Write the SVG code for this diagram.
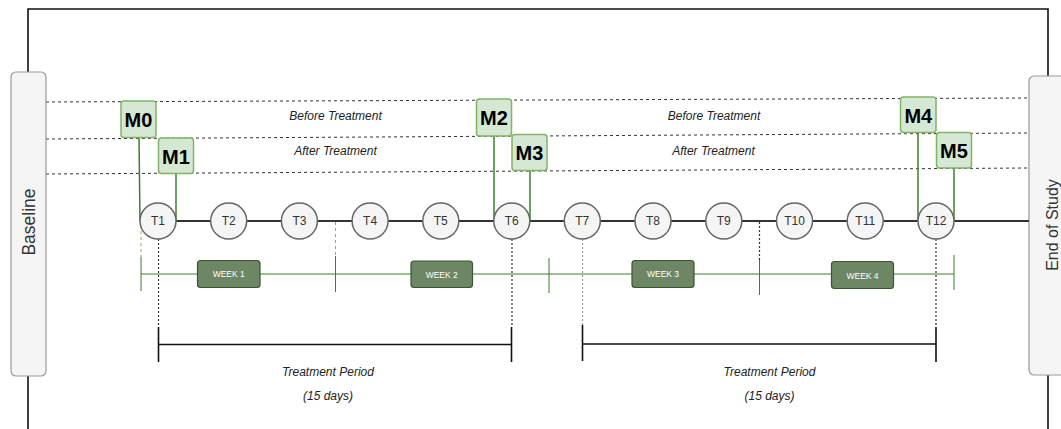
<svg xmlns="http://www.w3.org/2000/svg" width="1061" height="429" viewBox="0 0 1061 429">
<style>
  .frame{fill:none;stroke:#111;stroke-width:1.6}
  .side{fill:#f5f5f5;stroke:#999;stroke-width:1.2}
  .sideText{font-family:"Liberation Sans",Arial,sans-serif;fill:#333;text-anchor:middle;dominant-baseline:central}
  .dash{fill:none;stroke:#333;stroke-width:1;stroke-dasharray:3 3}
  .axis{fill:none;stroke:#333;stroke-width:2}
  .t circle{fill:#f5f5f5;stroke:#666;stroke-width:1.5}
  .t text{font-family:"Liberation Sans",Arial,sans-serif;font-size:12px;fill:#333;text-anchor:middle;dominant-baseline:central}
  .m rect{fill:#d5e8d4;stroke:#82b366;stroke-width:1.5}
  .m text{font-family:"Liberation Sans",Arial,sans-serif;font-size:20px;font-weight:bold;fill:#000;text-anchor:middle;dominant-baseline:central}
  .mline{stroke:#3b7f2b;stroke-width:1.5;fill:none}
  .wk rect{fill:#6d8764;stroke:#3a5431;stroke-width:1.2}
  .wk text{font-family:"Liberation Sans",Arial,sans-serif;font-size:8.5px;fill:#fff;text-anchor:middle;dominant-baseline:central}
  .wline{stroke:#3b7f2b;stroke-width:1;fill:none}
  .gdash{stroke:#82b366;stroke-width:1;stroke-dasharray:3 3;fill:none}
  .kdot{stroke:#333;stroke-width:1.2;stroke-dasharray:2 2;fill:none}
  .gdot{stroke:#999;stroke-width:1.2;stroke-dasharray:2 2;fill:none}
  .bracket{stroke:#111;stroke-width:1.6;fill:none}
  .lbl{font-family:"Liberation Sans",Arial,sans-serif;font-size:12px;font-style:italic;fill:#222;text-anchor:middle;dominant-baseline:central}
</style>

<g id="frame">
  <polyline class="frame" points="28,72 28,9 1048,9 1048,76"/>
  <line class="frame" x1="28" y1="376" x2="28" y2="429"/>
  <line class="frame" x1="1048" y1="375" x2="1048" y2="429"/>
</g>

<g id="guides">
  <line class="dash" x1="46" y1="102" x2="1029" y2="98"/>
  <line class="dash" x1="46" y1="139" x2="1029" y2="133"/>
  <line class="dash" x1="46" y1="174" x2="1029" y2="168"/>
</g>

<g id="baseline">
  <rect class="side" x="11" y="72" width="35" height="304" rx="5"/>
  <text class="sideText" style="font-size:17.5px" transform="translate(29,222) rotate(-90)">Baseline</text>
</g>
<g id="end-of-study">
  <rect class="side" x="1029" y="76" width="46" height="299" rx="5"/>
  <text class="sideText" style="font-size:16px" transform="translate(1052,225) rotate(-90)">End of Study</text>
</g>

<g id="connectors">
  <line class="axis" x1="176" y1="221" x2="1029" y2="221"/>
  <line class="mline" x1="139" y1="138" x2="140" y2="221"/>
  <line class="mline" x1="176" y1="173" x2="176" y2="221"/>
  <line class="mline" x1="494" y1="136" x2="494" y2="221"/>
  <line class="mline" x1="530" y1="171" x2="530" y2="221"/>
  <line class="mline" x1="918" y1="133" x2="918" y2="221"/>
  <line class="mline" x1="954" y1="168" x2="954" y2="221"/>
  <line class="wline" x1="141" y1="274" x2="954" y2="274"/>
  <line class="wline" x1="141" y1="257" x2="141" y2="291"/>
  <line class="wline" x1="335.5" y1="256" x2="335.5" y2="292"/>
  <line class="wline" x1="549" y1="258" x2="549" y2="293"/>
  <line class="wline" x1="759.5" y1="260" x2="759.5" y2="295"/>
  <line class="wline" x1="954" y1="255" x2="954" y2="290"/>
  <line class="gdash" x1="141" y1="225" x2="141" y2="257"/>
  <line class="gdash" x1="335.5" y1="222" x2="335.5" y2="256"/>
  <line class="kdot" x1="759.5" y1="222" x2="759.5" y2="260"/>
  <line class="kdot" x1="158.5" y1="239" x2="158.5" y2="327"/>
  <line class="kdot" x1="512" y1="239" x2="512" y2="327"/>
  <line class="gdot" x1="582.5" y1="239" x2="582.5" y2="325"/>
  <line class="kdot" x1="936" y1="239" x2="936" y2="327"/>
  <path class="bracket" d="M158.5,327 V362 M158.5,344.5 H511.5 M511.5,327 V362"/>
  <path class="bracket" d="M582.5,325 V361 M582.5,344 H936 M936,327 V362"/>
</g>

<g id="T1" class="t"><circle cx="158" cy="221" r="18"/><text x="158" y="221">T1</text></g>
<g id="T2" class="t"><circle cx="228.7" cy="221" r="18"/><text x="228.7" y="221">T2</text></g>
<g id="T3" class="t"><circle cx="299.4" cy="221" r="18"/><text x="299.4" y="221">T3</text></g>
<g id="T4" class="t"><circle cx="370.1" cy="221" r="18"/><text x="370.1" y="221">T4</text></g>
<g id="T5" class="t"><circle cx="440.8" cy="221" r="18"/><text x="440.8" y="221">T5</text></g>
<g id="T6" class="t"><circle cx="511.8" cy="221" r="18"/><text x="511.8" y="221">T6</text></g>
<g id="T7" class="t"><circle cx="582.3" cy="221" r="18"/><text x="582.3" y="221">T7</text></g>
<g id="T8" class="t"><circle cx="653" cy="221" r="18"/><text x="653" y="221">T8</text></g>
<g id="T9" class="t"><circle cx="723.8" cy="221" r="18"/><text x="723.8" y="221">T9</text></g>
<g id="T10" class="t"><circle cx="794.5" cy="221" r="18"/><text x="794.5" y="221">T10</text></g>
<g id="T11" class="t"><circle cx="865.2" cy="221" r="18"/><text x="865.2" y="221">T11</text></g>
<g id="T12" class="t"><circle cx="936" cy="221" r="18"/><text x="936" y="221">T12</text></g>

<g id="M0" class="m"><rect x="121" y="101" width="35" height="36.5" rx="3"/><text x="138.5" y="120">M0</text></g>
<g id="M1" class="m"><rect x="158.5" y="138" width="35" height="35.5" rx="3"/><text x="176" y="156.5">M1</text></g>
<g id="M2" class="m"><rect x="476.5" y="99" width="35" height="37" rx="3"/><text x="494" y="118">M2</text></g>
<g id="M3" class="m"><rect x="512" y="134.5" width="35" height="36" rx="3"/><text x="529.5" y="153">M3</text></g>
<g id="M4" class="m"><rect x="900.5" y="97" width="35.5" height="35.5" rx="3"/><text x="918.3" y="115.5">M4</text></g>
<g id="M5" class="m"><rect x="936.5" y="132.5" width="35" height="35.5" rx="3"/><text x="954" y="151">M5</text></g>

<g id="WEEK1" class="wk"><rect x="197.5" y="260.5" width="62.5" height="27" rx="3"/><text x="228.7" y="274">WEEK 1</text></g>
<g id="WEEK2" class="wk"><rect x="411" y="261" width="61.5" height="26.5" rx="3"/><text x="441.7" y="274.5">WEEK 2</text></g>
<g id="WEEK3" class="wk"><rect x="632" y="260.5" width="62" height="27" rx="3"/><text x="663" y="274">WEEK 3</text></g>
<g id="WEEK4" class="wk"><rect x="831.5" y="261.5" width="62" height="27" rx="3"/><text x="862.5" y="275.5">WEEK 4</text></g>

<g id="labels">
  <text class="lbl" x="335.5" y="115.5">Before Treatment</text>
  <text class="lbl" x="335.5" y="151">After Treatment</text>
  <text class="lbl" x="714" y="115.5">Before Treatment</text>
  <text class="lbl" x="713.5" y="151">After Treatment</text>
  <text class="lbl" x="328" y="372">Treatment Period</text>
  <text class="lbl" x="328" y="396">(15 days)</text>
  <text class="lbl" x="769.5" y="372">Treatment Period</text>
  <text class="lbl" x="769.5" y="396">(15 days)</text>
</g>
</svg>
